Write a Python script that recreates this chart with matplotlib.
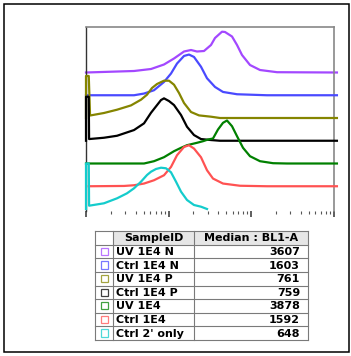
import matplotlib
matplotlib.use('Agg')
import matplotlib.pyplot as plt
from matplotlib.patches import Rectangle

# histogram traces (BL1-A intensity, height)
purple_x = [100, 382, 614, 882, 1166, 1542, 1874, 2214, 2694, 3274, 3661, 4451, 4840,
            5886, 6769, 7779, 9724, 12850, 20670, 110000]
purple_y = [0, 1.5, 3.5, 8, 14, 21, 22.5, 21, 21.5, 27.5, 34.5, 40.8, 40.5,
            36, 27.5, 17.5, 7.5, 2.5, 0.3, 0]

blue_x = [100, 382, 505, 667, 882, 1072, 1268, 1542, 1772, 2037, 2477, 2929, 3661,
          4577, 6769, 15630, 110000]
blue_y = [0, 0, 1.7, 5, 13.3, 21.7, 31.7, 39.3, 40.7, 38.3, 28.5, 17, 8.3,
          3.3, 1, 0, 0]

olive_x = [100, 100, 108, 112, 165, 238, 351, 464, 549, 631, 726, 882, 1014, 1166,
           1341, 1542, 1874, 2343, 3274, 4210, 110000]
olive_y = [0, 42, 42, 2.5, 5, 8.3, 12.6, 18.3, 23.3, 30, 34, 37.3, 37.3, 33.3,
           25, 15, 6, 2.6, 1.3, 0, 0]

black_x = [100, 100, 108, 109, 165, 238, 382, 505, 614, 811, 882, 1014, 1166, 1419,
           1676, 2037, 2477, 3274, 4210, 110000]
black_y = [0, 44, 44, 1.7, 3, 5, 10.7, 17.4, 28, 40.7, 42.4, 39.7, 35.7, 25.7,
           14, 5.7, 1.7, 0.7, 0, 0]

green_x = [100, 505, 667, 882, 1166, 1419, 1676, 2214, 2620, 3012, 3462, 3981, 4577,
           5118, 5886, 6769, 8000, 9724, 12850, 18490, 27320, 110000]
green_y = [0, 0, 2.3, 6.3, 12.3, 15.7, 18.3, 20.7, 22.3, 24, 25, 34, 40.7,
           43, 37.3, 27.3, 15.7, 7.3, 2.3, 0.3, 0, 0]

red_x = [108, 289, 382, 505, 667, 882, 1072, 1268, 1542, 1772, 2037, 2477, 2929,
         3462, 4577, 7356, 15630, 110000]
red_y = [0, 0.3, 1, 2.7, 6, 11, 19.3, 31, 39.3, 41, 37.7, 29, 16,
         7.7, 2.7, 0.5, 0, 0]

cyan_x = [100, 100, 108, 109, 165, 238, 314, 382, 464, 549, 614, 705, 811, 933,
          1072, 1233, 1419, 1676, 2037, 2477, 2929]
cyan_y = [0, 45.5, 45.5, 3.3, 5.7, 10.7, 15.7, 20.7, 27.3, 34, 37.3, 40, 41.3, 40.7,
          36.7, 27.3, 17.3, 9, 4, 2.3, 0]

samples = ['UV 1E4 N', 'Ctrl 1E4 N', 'UV 1E4 P', 'Ctrl 1E4 P', 'UV 1E4', 'Ctrl 1E4', "Ctrl 2' only"]
medians = [3607, 1603, 761, 759, 3878, 1592, 648]
colors = ['#a348ff', '#4a4aff', '#858500', '#000000', '#008000', '#ff5252', '#14cccc']
traces = [(purple_x, purple_y), (blue_x, blue_y), (olive_x, olive_y), (black_x, black_y),
          (green_x, green_y), (red_x, red_y), (cyan_x, cyan_y)]

W, H = 351, 356
fig = plt.figure(figsize=(W / 100, H / 100), dpi=100)

ax = fig.add_axes([86 / W, 1 - 211 / H, 248 / W, 184 / H])
n = len(traces)
step = 22.75
for i, ((xs, ys), c) in enumerate(zip(traces, colors)):
    off = 2 + step * (n - 1 - i)
    ax.plot(xs, [y + off for y in ys], color=c, lw=1.6, clip_on=False,
            solid_joinstyle='round', zorder=2 + i)

ax.set_xscale('log')
ax.set_xlim(100, 101400)
ax.set_ylim(0, 184)
ax.set_yticks([])
ax.tick_params(axis='x', which='major', direction='out', length=4, width=1.1,
               color='#333333', labelbottom=False)
ax.tick_params(axis='x', which='minor', direction='out', length=2.5, width=0.8,
               color='#555555')
ax.spines['bottom'].set_visible(False)
ax.spines['left'].set_color('#333333')
ax.spines['left'].set_linewidth(1.0)
for s in ['top', 'right']:
    ax.spines[s].set_color('#888888')
    ax.spines[s].set_linewidth(1.2)

# overlay in pixel coordinates for frame and table
ov = fig.add_axes([0, 0, 1, 1])
ov.set_xlim(0, W)
ov.set_ylim(H, 0)
ov.axis('off')
ov.add_patch(Rectangle((3.5, 3.5), 345.5, 348.5, fill=False, ec='black', lw=1.1))

tx0, tx1, tx2, tx3 = 95, 113, 194, 308
ty0, ty1 = 231, 340
rh = (ty1 - ty0) / (len(samples) + 1)
ov.add_patch(Rectangle((tx1, ty0), tx3 - tx1, rh, fc='#e6e6e6', ec='none'))
grid_c = '#7a7a7a'
for k in range(len(samples) + 2):
    y = ty0 + k * rh
    ov.plot([tx0, tx3], [y, y], color=grid_c, lw=0.8)
for x in [tx0, tx1, tx2, tx3]:
    ov.plot([x, x], [ty0, ty1], color=grid_c, lw=0.8)

font = dict(family='DejaVu Sans', weight='bold', size=8)
ov.text((tx1 + tx2) / 2, ty0 + rh / 2 + 0.5, 'SampleID', ha='center', va='center', **font)
ov.text((tx2 + tx3) / 2, ty0 + rh / 2 + 0.5, 'Median : BL1-A', ha='center', va='center', **font)
for k, (name, med, c) in enumerate(zip(samples, medians, colors)):
    yc = ty0 + (k + 1.5) * rh
    ov.add_patch(Rectangle((100.5, yc - 3.7), 7.2, 7.2, fill=False, ec=c, lw=0.9, alpha=0.75))
    ov.text(116, yc + 0.5, name, ha='left', va='center', **font)
    ov.text(300, yc + 0.5, str(med), ha='right', va='center', **font)

fig.savefig('out.png', dpi=100)
